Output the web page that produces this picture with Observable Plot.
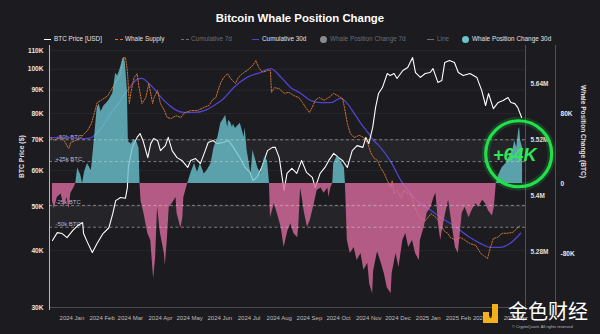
<!DOCTYPE html>
<html><head><meta charset="utf-8">
<script src="https://cdn.jsdelivr.net/npm/d3@7"></script>
<script src="https://cdn.jsdelivr.net/npm/@observablehq/plot@0.6"></script>
<style>
html,body{margin:0;padding:0;background:#1b1b20;}
#root{position:relative;width:600px;height:334px;background:#1b1b20;overflow:hidden;font-family:"Liberation Sans",Arial,sans-serif;}
#title{position:absolute;left:0;top:11px;width:600px;text-align:center;color:#fff;font-weight:bold;font-size:11.4px;line-height:14px;}
.lg{position:absolute;top:34px;height:10px;line-height:10px;font-size:6.4px;color:#e2e2e2;white-space:nowrap;}
.lg.off{color:#6d6d75;text-decoration:line-through;}
.sym{position:absolute;top:5px;}
#chart{position:absolute;left:0;top:42px;width:600px;height:292px;}
#chart svg{position:absolute;left:0;top:0;}
#wm{position:absolute;left:0;top:0;width:600px;height:334px;pointer-events:none;}
</style></head>
<body>
<div id="root">
  <div id="title">Bitcoin Whale Position Change</div>
  <div id="legend"></div>
  <div id="chart"></div>
  <div id="wm">
    <div style="position:absolute;left:483px;top:312px;width:6px;height:6px;background:#f3b21b"></div>
    <div style="position:absolute;left:492px;top:304px;width:6px;height:18px;background:#f3b21b"></div>
    <div style="position:absolute;left:483px;top:318px;width:15px;height:5px;background:#f3b21b"></div>
    <div style="position:absolute;left:508px;top:301px;font-family:'Noto Sans CJK SC';font-size:20px;line-height:20px;height:20px;color:#fff;">金色财经</div>
    <div style="position:absolute;left:512px;top:324px;font-size:4px;line-height:5px;color:#bbb;">© CryptoQuant. All rights reserved</div>
  </div>
</div>
<script>
// ---------- data ----------
const xDomain = ["2023-12-09", "2025-04-11"];
const priceTicks = [30000, 40000, 50000, 60000, 70000, 80000, 90000, 100000, 110000];
const supplyTicks = [5.28, 5.4, 5.52, 5.64];
const whaleTicks = [-80, 0, 80];
const levels = [
  {v: 50, label: "+50k BTC"}, {v: 25, label: "+25k BTC"},
  {v: -25, label: "-25k BTC"}, {v: -50, label: "-50k BTC"}
];
const bands = [[25, 50], [-50, -25]];

// BTC price [USD]
const price = [
["2023-12-12",42100],["2023-12-17",43800],["2023-12-22",43600],["2023-12-27",42700],["2024-01-02",44300],["2024-01-07",45400],["2024-01-12",46100],["2024-01-13",43600],["2024-01-17",41700],["2024-01-22",39600],["2024-01-27",41500],["2024-02-02",43600],["2024-02-08",44900],["2024-02-12",48200],["2024-02-15",51500],["2024-02-20",52300],["2024-02-25",52100],["2024-02-27",55000],["2024-02-28",60900],["2024-03-03",67400],["2024-03-08",70900],["2024-03-11",72300],["2024-03-14",69800],["2024-03-19",64000],["2024-03-22",68700],["2024-03-25",70500],["2024-03-29",69800],["2024-04-01",66300],["2024-04-06",68000],["2024-04-09",70900],["2024-04-13",66300],["2024-04-18",64000],["2024-04-23",63100],["2024-04-29",60900],["2024-05-02",63100],["2024-05-07",63700],["2024-05-12",62100],["2024-05-17",66300],["2024-05-20",69100],["2024-05-25",69800],["2024-05-29",68700],["2024-06-04",69100],["2024-06-10",69800],["2024-06-15",67400],["2024-06-22",63700],["2024-06-27",60900],["2024-07-02",59400],["2024-07-05",57000],["2024-07-09",57900],["2024-07-14",60900],["2024-07-20",66300],["2024-07-25",67400],["2024-07-28",67400],["2024-08-01",64000],["2024-08-04",57900],["2024-08-06",54200],["2024-08-09",59100],["2024-08-14",60600],["2024-08-19",59100],["2024-08-24",63100],["2024-08-29",59400],["2024-09-04",57900],["2024-09-07",55000],["2024-09-12",59100],["2024-09-17",60900],["2024-09-21",63100],["2024-09-26",65400],["2024-10-01",64000],["2024-10-05",63100],["2024-10-10",60900],["2024-10-15",66300],["2024-10-20",68000],["2024-10-26",67400],["2024-10-29",70900],["2024-11-01",68700],["2024-11-05",74500],["2024-11-08",82500],["2024-11-11",88500],["2024-11-15",91200],["2024-11-20",97900],["2024-11-23",96900],["2024-11-27",97900],["2024-11-30",95500],["2024-12-06",99400],["2024-12-11",100900],["2024-12-16",106200],["2024-12-19",98400],["2024-12-24",96000],["2024-12-29",97900],["2025-01-03",98400],["2025-01-06",100400],["2025-01-11",93600],["2025-01-15",94500],["2025-01-18",103500],["2025-01-23",104600],["2025-01-28",103500],["2025-02-01",98400],["2025-02-06",96900],["2025-02-13",97900],["2025-02-20",96000],["2025-02-25",89900],["2025-03-01",83300],["2025-03-04",88500],["2025-03-09",82000],["2025-03-14",84600],["2025-03-19",85400],["2025-03-24",86700],["2025-03-27",84600],["2025-03-31",84100],["2025-04-03",82500],["2025-04-07",78400]
];

// Whale supply [M BTC]
const supply = [
["2023-12-10",5.524],["2023-12-14",5.518],["2023-12-17",5.522],["2023-12-21",5.524],["2023-12-24",5.518],["2023-12-28",5.503],["2023-12-29",5.501],["2023-12-31",5.514],["2024-01-05",5.518],["2024-01-10",5.524],["2024-01-14",5.533],["2024-01-17",5.539],["2024-01-21",5.554],["2024-01-24",5.576],["2024-01-27",5.599],["2024-01-31",5.604],["2024-02-03",5.608],["2024-02-07",5.614],["2024-02-10",5.625],["2024-02-15",5.642],["2024-02-20",5.661],["2024-02-22",5.694],["2024-02-25",5.696],["2024-02-27",5.668],["2024-02-29",5.597],["2024-03-02",5.625],["2024-03-05",5.653],["2024-03-08",5.661],["2024-03-10",5.631],["2024-03-13",5.597],["2024-03-17",5.610],["2024-03-20",5.640],["2024-03-24",5.597],["2024-03-25",5.608],["2024-03-29",5.625],["2024-04-01",5.597],["2024-04-05",5.582],["2024-04-08",5.567],["2024-04-12",5.565],["2024-04-17",5.571],["2024-04-22",5.567],["2024-04-25",5.576],["2024-05-02",5.582],["2024-05-09",5.582],["2024-05-16",5.589],["2024-05-21",5.593],["2024-05-24",5.604],["2024-05-28",5.610],["2024-05-31",5.631],["2024-06-02",5.642],["2024-06-05",5.653],["2024-06-09",5.661],["2024-06-12",5.651],["2024-06-17",5.640],["2024-06-20",5.653],["2024-06-24",5.661],["2024-06-29",5.668],["2024-07-05",5.679],["2024-07-08",5.689],["2024-07-11",5.674],["2024-07-15",5.664],["2024-07-20",5.668],["2024-07-23",5.668],["2024-07-24",5.621],["2024-07-27",5.631],["2024-08-01",5.629],["2024-08-06",5.619],["2024-08-11",5.621],["2024-08-16",5.614],["2024-08-21",5.610],["2024-08-25",5.599],["2024-08-28",5.589],["2024-09-01",5.578],["2024-09-04",5.589],["2024-09-07",5.604],["2024-09-11",5.610],["2024-09-16",5.604],["2024-09-21",5.610],["2024-09-26",5.619],["2024-09-30",5.614],["2024-10-05",5.608],["2024-10-07",5.589],["2024-10-10",5.554],["2024-10-13",5.533],["2024-10-17",5.524],["2024-10-22",5.529],["2024-10-27",5.524],["2024-10-31",5.511],["2024-11-03",5.492],["2024-11-06",5.481],["2024-11-10",5.475],["2024-11-13",5.460],["2024-11-17",5.447],["2024-11-20",5.432],["2024-11-24",5.417],["2024-11-25",5.432],["2024-11-27",5.404],["2024-11-30",5.411],["2024-12-04",5.396],["2024-12-07",5.411],["2024-12-11",5.404],["2024-12-14",5.404],["2024-12-17",5.383],["2024-12-21",5.361],["2024-12-24",5.353],["2024-12-29",5.346],["2025-01-04",5.361],["2025-01-09",5.353],["2025-01-14",5.340],["2025-01-17",5.325],["2025-01-21",5.319],["2025-01-24",5.310],["2025-01-29",5.304],["2025-02-03",5.310],["2025-02-08",5.304],["2025-02-13",5.297],["2025-02-19",5.293],["2025-02-24",5.276],["2025-02-27",5.271],["2025-03-03",5.265],["2025-03-06",5.289],["2025-03-09",5.308],["2025-03-13",5.310],["2025-03-18",5.319],["2025-03-23",5.319],["2025-03-29",5.321],["2025-04-03",5.331],["2025-04-06",5.336]
];

// Cumulative 30d [M BTC]
const cumulative30 = [
["2023-12-10",5.524],["2023-12-28",5.524],["2024-01-14",5.522],["2024-01-21",5.524],["2024-01-26",5.533],["2024-01-31",5.544],["2024-02-10",5.576],["2024-02-17",5.595],["2024-02-24",5.616],["2024-03-02",5.636],["2024-03-08",5.649],["2024-03-13",5.651],["2024-03-20",5.640],["2024-03-27",5.625],["2024-04-01",5.612],["2024-04-08",5.597],["2024-04-18",5.582],["2024-04-25",5.578],["2024-05-06",5.578],["2024-05-16",5.582],["2024-05-26",5.593],["2024-06-05",5.608],["2024-06-15",5.631],["2024-06-29",5.653],["2024-07-13",5.664],["2024-07-23",5.672],["2024-08-03",5.653],["2024-08-13",5.631],["2024-08-23",5.619],["2024-09-02",5.604],["2024-09-13",5.599],["2024-09-23",5.599],["2024-10-03",5.608],["2024-10-10",5.597],["2024-10-17",5.576],["2024-10-24",5.554],["2024-10-31",5.535],["2024-11-06",5.518],["2024-11-13",5.503],["2024-11-24",5.471],["2024-12-04",5.432],["2024-12-14",5.404],["2024-12-24",5.383],["2025-01-04",5.368],["2025-01-14",5.353],["2025-01-24",5.340],["2025-02-03",5.325],["2025-02-13",5.310],["2025-02-24",5.297],["2025-03-06",5.289],["2025-03-16",5.289],["2025-03-26",5.297],["2025-04-06",5.319]
];

// Whale position change 30d [K BTC]
const whaleChange = [
["2023-12-12",-20],["2023-12-14",-29],["2023-12-17",-16],["2023-12-21",-12],["2023-12-24",-27],["2023-12-27",-16],["2023-12-29",-29],["2023-12-31",-11],["2024-01-03",-5],["2024-01-05",0],["2024-01-07",18],["2024-01-08",15],["2024-01-10",10],["2024-01-12",0],["2024-01-14",13],["2024-01-17",23],["2024-01-21",15],["2024-01-24",49],["2024-01-27",86],["2024-01-29",91],["2024-01-31",82],["2024-02-03",89],["2024-02-05",91],["2024-02-08",95],["2024-02-12",103],["2024-02-15",126],["2024-02-17",123],["2024-02-19",129],["2024-02-22",140],["2024-02-24",144],["2024-02-25",137],["2024-02-27",106],["2024-02-28",48],["2024-03-02",45],["2024-03-05",50],["2024-03-08",47],["2024-03-10",40],["2024-03-11",0],["2024-03-12",-20],["2024-03-15",-34],["2024-03-19",-57],["2024-03-22",-65],["2024-03-25",-109],["2024-03-27",-85],["2024-03-29",-27],["2024-04-01",-57],["2024-04-05",-80],["2024-04-06",-94],["2024-04-08",-65],["2024-04-10",-27],["2024-04-13",-23],["2024-04-17",-16],["2024-04-18",-34],["2024-04-22",-51],["2024-04-24",-39],["2024-04-25",-16],["2024-04-27",-8],["2024-04-29",0],["2024-05-02",11],["2024-05-06",23],["2024-05-09",13],["2024-05-12",23],["2024-05-16",11],["2024-05-19",15],["2024-05-23",23],["2024-05-26",41],["2024-05-30",53],["2024-06-02",69],["2024-06-05",74],["2024-06-07",78],["2024-06-09",64],["2024-06-10",72],["2024-06-12",70],["2024-06-14",64],["2024-06-15",68],["2024-06-17",63],["2024-06-22",69],["2024-06-26",53],["2024-06-27",64],["2024-06-29",38],["2024-07-03",11],["2024-07-05",38],["2024-07-06",34],["2024-07-10",18],["2024-07-13",11],["2024-07-17",30],["2024-07-20",26],["2024-07-22",0],["2024-07-23",-39],["2024-07-27",-23],["2024-07-30",-34],["2024-08-03",-50],["2024-08-06",-73],["2024-08-10",-54],["2024-08-13",-46],["2024-08-16",-57],["2024-08-20",-62],["2024-08-21",-50],["2024-08-23",-5],["2024-08-27",-34],["2024-08-30",-50],["2024-09-02",-42],["2024-09-06",-23],["2024-09-09",-8],["2024-09-13",-5],["2024-09-16",-11],["2024-09-20",-5],["2024-09-21",-16],["2024-09-23",-5],["2024-09-25",0],["2024-09-26",23],["2024-09-30",32],["2024-10-03",26],["2024-10-07",18],["2024-10-08",0],["2024-10-10",-65],["2024-10-13",-80],["2024-10-17",-73],["2024-10-20",-88],["2024-10-24",-80],["2024-10-27",-99],["2024-10-31",-91],["2024-11-02",-115],["2024-11-05",-126],["2024-11-06",-100],["2024-11-10",-78],["2024-11-13",-88],["2024-11-17",-103],["2024-11-20",-119],["2024-11-24",-126],["2024-11-25",-103],["2024-11-29",-80],["2024-12-02",-96],["2024-12-06",-65],["2024-12-09",-57],["2024-12-12",-73],["2024-12-16",-65],["2024-12-19",-80],["2024-12-23",-88],["2024-12-24",-65],["2024-12-28",-50],["2024-12-31",-34],["2025-01-04",-27],["2025-01-07",-16],["2025-01-09",-11],["2025-01-12",-50],["2025-01-14",-65],["2025-01-15",-57],["2025-01-19",-34],["2025-01-22",-19],["2025-01-26",-50],["2025-01-29",-73],["2025-02-01",-80],["2025-02-03",-57],["2025-02-05",-34],["2025-02-08",-27],["2025-02-12",-39],["2025-02-15",-31],["2025-02-19",-23],["2025-02-22",-27],["2025-02-26",-19],["2025-03-01",-23],["2025-03-04",-31],["2025-03-08",-37],["2025-03-10",-27],["2025-03-12",0],["2025-03-15",11],["2025-03-18",18],["2025-03-22",23],["2025-03-25",30],["2025-03-29",38],["2025-03-31",49],["2025-04-02",41],["2025-04-04",61],["2025-04-05",64],["2025-04-06",49],["2025-04-08",41]
];

const annotationRing = [["2025-04-04", 34]];
const annotationText = [["2025-03-31", 32, "+64K"]];

// legend
const legendItems = [
  {x: 44, label: "BTC Price [USD]", sym: "line", color: "#ffffff", on: true},
  {x: 115, label: "Whale Supply", sym: "dash", color: "#d9782d", on: true},
  {x: 181, label: "Cumulative 7d", sym: "dash", color: "#6d6d75", on: false},
  {x: 252, label: "Cumulative 30d", sym: "line", color: "#4f45cc", on: true},
  {x: 320, label: "Whale Position Change 7d", sym: "dot", color: "#8a8a90", on: false},
  {x: 427, label: "Line", sym: "line", color: "#6d6d75", on: false},
  {x: 462, label: "Whale Position Change 30d", sym: "dot", color: "#6cc3cf", on: true}
];

// ---------- render ----------
const parse = d3.utcParse("%Y-%m-%d");
const X0 = parse(xDomain[0]), X1 = parse(xDomain[1]);

const lg = document.getElementById("legend");
for (const it of legendItems) {
  const d = document.createElement("div");
  d.className = "lg" + (it.on ? "" : " off");
  d.style.left = it.x + "px";
  let symHtml;
  if (it.sym === "line") symHtml = `<span class="sym" style="left:0;width:7px;height:1.2px;background:${it.color};top:4.6px"></span>`;
  else if (it.sym === "dash") symHtml = `<span class="sym" style="left:0;width:8px;height:0;border-top:1.2px dashed ${it.color};top:4.6px"></span>`;
  else symHtml = `<span class="sym" style="left:0;width:7px;height:7px;border-radius:50%;background:${it.color};top:1.5px"></span>`;
  d.innerHTML = symHtml + `<span style="position:absolute;left:10px;top:0">${it.label}</span>`;
  lg.appendChild(d);
}

const chart = document.getElementById("chart");
const base = {
  width: 600, height: 292,
  marginLeft: 49, marginRight: 75, marginTop: 3, marginBottom: 24,
  style: {background: "transparent", color: "#dddddd", fontFamily: "Liberation Sans, Arial, sans-serif", overflow: "visible"}
};
function layer(opts) {
  const svg = Plot.plot({...base, ...opts});
  chart.appendChild(svg);
}
const xOpt = (axis) => ({type: "utc", domain: [X0, X1], ...(axis ? {} : {axis: null})});

const priceY = {type: "log", domain: [30000, 110000], range: [265, 8]};
const whaleY = {domain: [-80, 80], range: [211, 71]};
const supplyY = {domain: [5.28, 5.64], range: [209, 41]};
const monthTicks = d3.utcMonth.range(parse("2024-01-01"), parse("2025-04-02"));

// layer 0: grid, price axis, time axis, frame lines
layer({
  x: xOpt(true), y: priceY,
  marks: [
    Plot.ruleY(priceTicks, {stroke: "#ffffff", strokeOpacity: 0.05}),
    Plot.ruleY([30000], {stroke: "#4a4a50"}),
    Plot.axisY({ticks: priceTicks, tickFormat: d => d / 1000 + "K", tickSize: 0, tickPadding: 6, fontSize: 6.6, fontWeight: "bold", color: "#e8e8e8", label: null}),
    Plot.axisX({ticks: monthTicks, tickFormat: d3.utcFormat("%Y %b"), tickSize: 0, tickPadding: 5, fontSize: 6, color: "#bdbdbd", label: null}),
    Plot.ruleX([X0], {stroke: "#bbbbbb", strokeWidth: 1}),
    Plot.ruleX([X1], {stroke: "#505058"}),
    Plot.ruleX([X1], {stroke: "#505058", dx: 30}),
    Plot.text(["BTC Price ($)"], {frameAnchor: "left", dx: -28, rotate: -90, fontSize: 6.8, fontWeight: "bold", fill: "#e0e0e0"})
  ]
});

// layer 1: whale bands, level labels, whale axis
layer({
  x: xOpt(false), y: whaleY,
  marks: [
    Plot.rect(bands, {x1: () => X0, x2: () => X1, y1: d => d[0], y2: d => d[1], fill: "#ffffff", fillOpacity: 0.045}),
    Plot.text(levels, {y: d => d.v, text: d => d.label, frameAnchor: "left", textAnchor: "start", dx: 6, dy: -3, fontSize: 6, fill: "#b8b5d8"}),
    Plot.axisY({anchor: "right", ticks: whaleTicks, tickFormat: d => d === 0 ? "0" : d + "K", tickSize: 0, tickPadding: 35, fontSize: 6.6, fontWeight: "bold", color: "#e8e8e8", label: null}),
    Plot.text(["Whale Position Change (BTC)"], {frameAnchor: "right", dx: 58, rotate: 90, fontSize: 6.6, fontWeight: "bold", fill: "#e0e0e0"})
  ]
});

// layer 2: whale supply + cumulative 30d
layer({
  x: xOpt(false), y: supplyY,
  marks: [
    Plot.line(cumulative30, {x: d => parse(d[0]), y: d => d[1], stroke: "#4f45cc", strokeWidth: 1.3, curve: "monotone-x"}),
    Plot.line(supply, {x: d => parse(d[0]), y: d => d[1], stroke: "#d47430", strokeWidth: 1, strokeDasharray: "1.4,1.4"}),
    Plot.axisY({anchor: "right", ticks: supplyTicks, tickFormat: d => d + "M", tickSize: 0, tickPadding: 5, fontSize: 6.4, fontWeight: "bold", color: "#e0e0e0", label: null})
  ]
});

// layer 3: BTC price
layer({
  x: xOpt(false), y: {...priceY, axis: null},
  marks: [
    Plot.line(price, {x: d => parse(d[0]), y: d => d[1], stroke: "#ffffff", strokeWidth: 1.1})
  ]
});

// layer 4: whale change areas, level rules, annotation
layer({
  x: xOpt(false), y: {...whaleY, axis: null},
  marks: [
    Plot.areaY(whaleChange, {x: d => parse(d[0]), y: d => Math.max(0, d[1]), fill: "#6cc3cf", fillOpacity: 0.8}),
    Plot.areaY(whaleChange, {x: d => parse(d[0]), y: d => Math.min(0, d[1]), fill: "#d66a9c", fillOpacity: 0.82}),
    Plot.ruleY(levels, {y: d => d.v, stroke: "#d0d0d0", strokeOpacity: 0.55, strokeDasharray: "3,2.5"}),
    Plot.dot(annotationRing, {x: d => parse(d[0]), y: d => d[1], r: 33, stroke: "#22e04a", strokeWidth: 8, strokeOpacity: 0.18, fill: "none"}),
    Plot.dot(annotationRing, {x: d => parse(d[0]), y: d => d[1], r: 33, stroke: "#22e04a", strokeWidth: 3.2, fill: "none"}),
    Plot.text(annotationText, {x: d => parse(d[0]), y: d => d[1], text: d => d[2], fontSize: 18, fontWeight: "bold", fontStyle: "italic", fill: "#2ee85a"})
  ]
});
</script>
</body></html>
